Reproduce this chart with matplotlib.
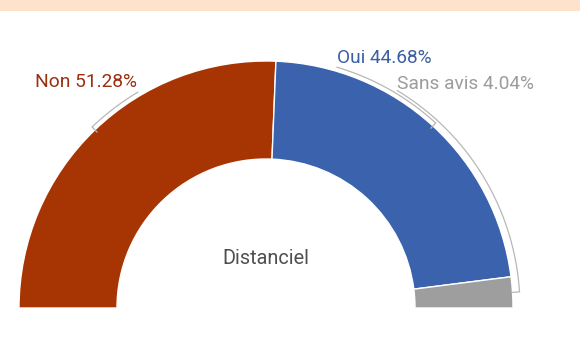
import numpy as np
import matplotlib.pyplot as plt
from matplotlib.patches import Wedge, Rectangle

plt.rcParams["font.family"] = ["Roboto", "DejaVu Sans"]

labels = ["Non", "Oui", "Sans avis"]
shares = [51.28, 44.68, 4.04]
slice_colors = ["#a63503", "#3a62ad", "#9e9e9e"]
text_colors = ["#9a2f12", "#3b5fa3", "#9c9c9c"]
center_label = "Distanciel"

W, H = 580, 338
CX, CY = 266, H - 308
R_OUT, R_IN = 247, 149

fig = plt.figure(figsize=(W / 100, H / 100), dpi=100)
ax = fig.add_axes([0, 0, 1, 1])
ax.set_xlim(0, W)
ax.set_ylim(0, H)
ax.set_aspect("equal")
ax.axis("off")

# header strip
ax.add_patch(Rectangle((0, H - 11), W, 11, color="#fde3cb", lw=0))


def arc_pts(r, a0, a1, n=80):
    t = np.radians(np.linspace(a0, a1, n))
    return CX + r * np.cos(t), CY + r * np.sin(t)


# slices run clockwise from the left end of the half ring
total = sum(shares)
ends = 180 - np.cumsum(shares) / total * 180
starts = np.concatenate([[180], ends[:-1]])
mids = (starts + ends) / 2
for a_start, a_end, col in zip(starts, ends, slice_colors):
    ax.add_patch(Wedge((CX, CY), R_OUT, a_end, a_start, width=R_OUT - R_IN,
                       facecolor=col, edgecolor="white", lw=1))

# label anchors: angle where the connector meets the label, text position
label_angle = [120.6, 73.7, 59.0]
label_radius = [251, 251, 254]
text_pos = [(137, 82, "right"), (337, 58, "left"), (397, 84, "left")]

for i, lab in enumerate(labels):
    r = label_radius[i]
    xs, ys = arc_pts(r, mids[i], label_angle[i])
    ax.plot(xs, ys, color="#b8b8b8", lw=0.9, solid_capstyle="butt")
    t = np.radians(mids[i])
    ax.plot([CX + r * np.cos(t), CX + (r - 7) * np.cos(t)],
            [CY + r * np.sin(t), CY + (r - 7) * np.sin(t)],
            color="#b8b8b8", lw=0.9)
    x, y, ha = text_pos[i]
    ax.text(x, H - y, f"{lab} {shares[i]:.2f}%", color=text_colors[i],
            fontsize=13.8, ha=ha, va="center")

ax.text(CX, H - 259, center_label, color="#4f4f4f", fontsize=14.3,
        ha="center", va="center")

fig.savefig("out.png", dpi=100, facecolor="white")
